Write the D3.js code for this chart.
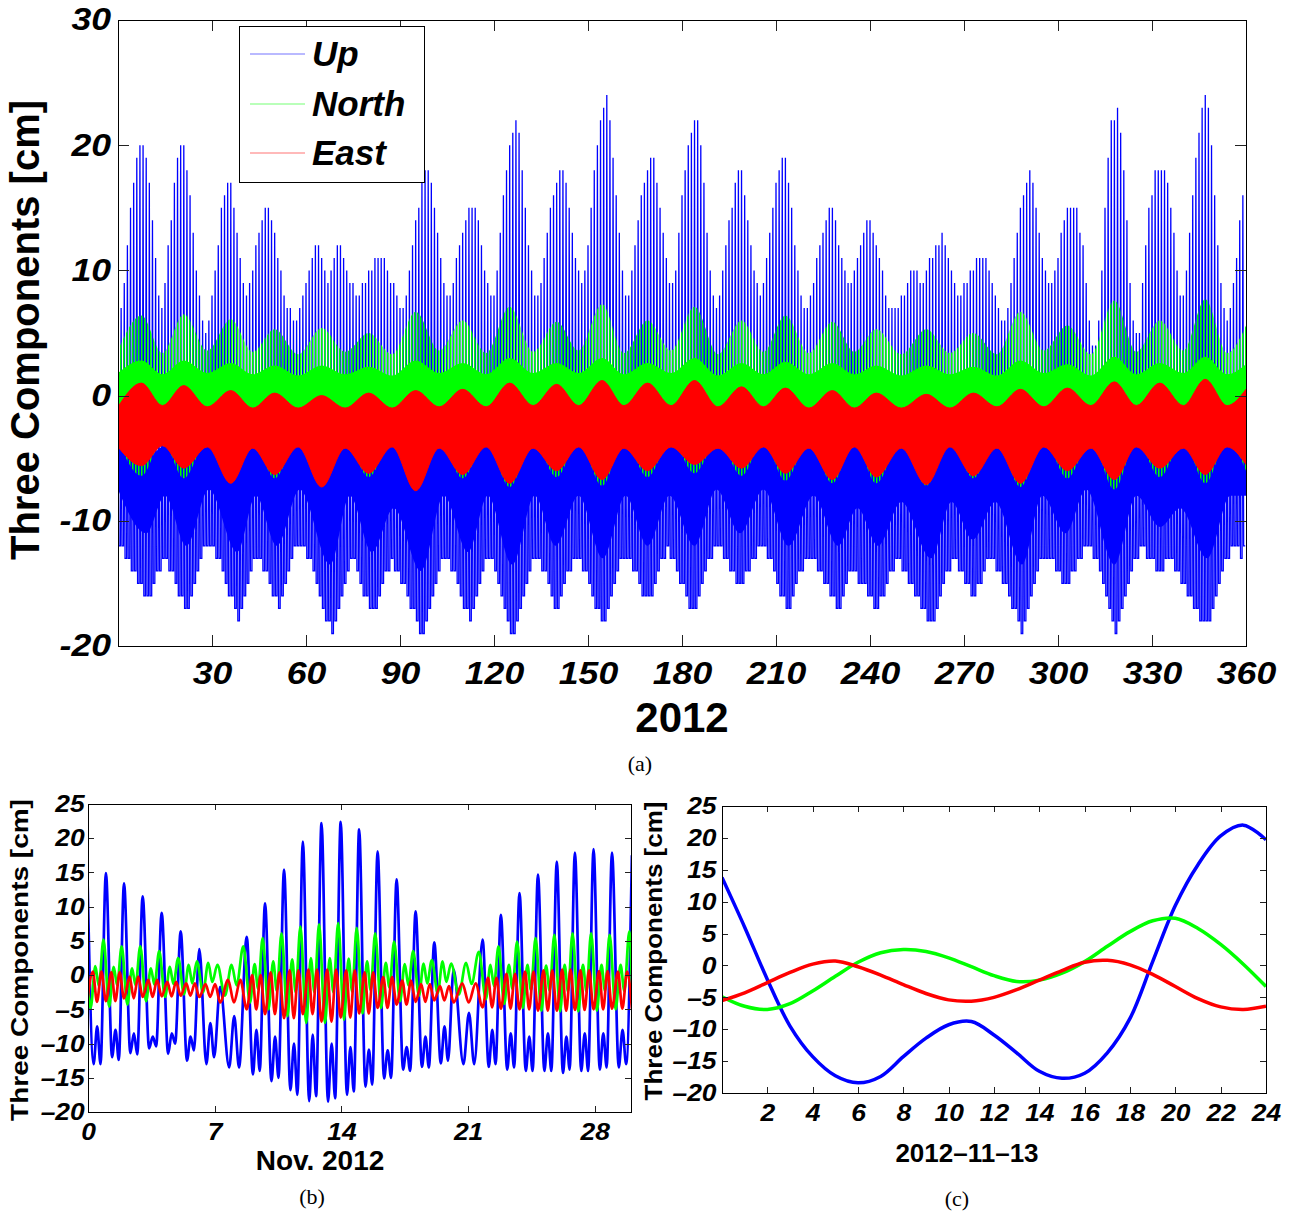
<!DOCTYPE html>
<html>
<head>
<meta charset="utf-8">
<title>Three Components – 2012</title>
<script src="https://cdn.jsdelivr.net/npm/d3@7"></script>
<style>
  html, body { margin: 0; padding: 0; background: #ffffff; }
  svg { display: block; }
</style>
</head>
<body>
<svg id="fig" width="1296" height="1216" viewBox="0 0 1296 1216"></svg>
<script>
// ======================= (a) whole year 2012 =======================
const yearTicks = [30, 60, 90, 120, 150, 180, 210, 240, 270, 300, 330, 360];
const yearValueTicks = [-20, -10, 0, 10, 20, 30];
const seriesNames = ["Up", "North", "East"];

// Up component: daily high [cm], one value per day of year (0..359)
const upDailyHigh = [
  5, 7, 9, 12, 15, 17, 19, 20, 20, 19, 17, 14, 11, 8,
  7, 9, 12, 14, 17, 19, 20, 20, 18, 16, 13, 10, 8, 6,
  5, 6, 8, 10, 12, 15, 16, 17, 17, 15, 13, 11, 9, 8,
  9, 10, 12, 13, 14, 15, 15, 14, 13, 11, 10, 8, 7, 7, 6,
  6, 7, 8, 9, 10, 11, 12, 12, 11, 10, 9,
  10, 11, 12, 12, 11, 10, 9, 9, 8, 8,
  9, 9, 10, 10, 11, 11, 11, 11, 10, 9, 9, 8, 7, 7,
  8, 10, 12, 14, 15, 17, 18, 18, 17, 15, 13, 11, 9, 8,
  8, 9, 11, 12, 13, 14, 15, 15, 15, 14, 12, 10, 9, 8,
  8, 10, 13, 16, 18, 20, 21, 22, 21, 18, 15, 12, 10, 8,
  8, 9, 11, 13, 15, 16, 17, 18, 18, 17, 15, 13, 11, 10, 9,
  10, 12, 15, 18, 20, 22, 23, 24, 22, 19, 16, 13, 10, 8,
  8, 10, 12, 14, 16, 17, 18, 19, 19, 17, 15, 13, 11, 9,
  9, 10, 13, 16, 18, 20, 21, 22, 22, 20, 17, 13, 10, 8,
  7, 8, 10, 12, 14, 15, 17, 18, 18, 16, 14, 12, 10, 9, 8,
  9, 11, 13, 15, 17, 18, 19, 19, 17, 15, 12, 10, 8, 7,
  7, 8, 9, 11, 12, 13, 14, 15, 15, 14, 12, 11, 10, 9,
  9, 10, 11, 12, 13, 14, 14, 13, 12, 11, 10, 8, 7, 7,
  7, 7, 8, 8, 9, 10, 10, 10, 9, 9, 10, 11, 11, 12, 12, 13, 12, 11, 10, 9, 8, 8,
  9, 9, 10, 10, 11, 11, 11, 11, 10, 9, 8, 7, 6, 6,
  7, 9, 11, 13, 15, 16, 17, 18, 17, 15, 13, 11, 10, 9,
  9, 10, 11, 13, 14, 15, 15, 15, 15, 13, 12, 9, 6, 4,
  4, 6, 10, 15, 19, 22, 22, 23, 21, 18, 14, 9, 6, 5,
  5, 9, 12, 15, 16, 18, 18, 18, 18, 17, 15, 13, 10, 8,
  8, 10, 13, 16, 19, 21, 23, 24, 23, 20, 16, 12, 9, 7, 6, 7, 9, 11, 14, 16
];

// Up component: daily low [cm]
const upDailyLow = [
  -12, -12, -13, -13, -14, -14, -15, -15, -16, -16, -16, -15, -14, -14,
  -13, -13, -14, -14, -15, -16, -16, -17, -17, -16, -15, -14, -13, -12,
  -12, -12, -12, -13, -13, -14, -15, -16, -16, -17, -18, -17, -16, -15, -14, -13, -13,
  -13, -14, -14, -15, -16, -16, -17, -16, -15, -14, -13, -12, -12, -12,
  -12, -13, -13, -14, -15, -16, -17, -18, -18, -19, -18, -17, -16, -15, -14, -13,
  -13, -14, -15, -16, -16, -17, -17, -17, -16, -15, -14, -14, -13, -14,
  -14, -15, -15, -16, -17, -17, -18, -19, -19, -18, -17, -16, -15, -14, -13, -13,
  -13, -14, -14, -15, -16, -17, -17, -18, -17, -16, -15, -14, -13, -13,
  -13, -14, -15, -16, -17, -18, -19, -19, -18, -17, -16, -15, -14, -13,
  -13, -13, -14, -14, -15, -16, -17, -17, -16, -15, -14, -14, -13, -13,
  -13, -14, -14, -15, -16, -17, -17, -18, -18, -17, -16, -15, -14, -13, -13,
  -13, -13, -14, -14, -15, -16, -16, -16, -16, -15, -14, -13, -13, -12, -13,
  -13, -14, -15, -15, -16, -17, -17, -17, -16, -15, -14, -13, -13, -12, -12,
  -12, -13, -13, -14, -14, -15, -15, -15, -14, -14, -13, -13, -12, -12,
  -12, -13, -13, -14, -15, -16, -16, -17, -17, -16, -15, -14, -14, -13, -13, -13,
  -13, -14, -14, -15, -15, -16, -16, -17, -17, -16, -15, -14, -14, -14, -15,
  -15, -15, -16, -16, -17, -17, -16, -16, -15, -14, -14, -13, -13, -14,
  -14, -15, -15, -16, -16, -17, -17, -18, -18, -18, -17, -16, -15, -14, -14, -13,
  -13, -14, -14, -15, -15, -16, -16, -15, -15, -14, -13, -13, -13, -14,
  -14, -15, -15, -16, -17, -17, -18, -19, -18, -17, -16, -15, -14, -13, -13,
  -13, -13, -13, -14, -14, -15, -15, -15, -14, -14, -13, -13, -12, -12,
  -12, -13, -13, -14, -15, -16, -17, -18, -19, -18, -17, -16, -15, -14, -13, -13,
  -12, -12, -13, -13, -13, -14, -14, -14, -13, -13, -13, -14, -14, -15, -15,
  -16, -16, -17, -17, -18, -18, -18, -18, -17, -16, -15, -14, -13, -13, -12, -12, -12, -13, -12
];

// Dense part of the Up trace (where the daily troughs overlap)
const upBandDay = [0, 9, 15, 21.8, 29, 38, 44, 50.7, 58, 67.7, 74, 81, 88, 96.7, 104, 111.7, 118, 125.8, 133, 139.6,
  147, 154.7, 162, 169, 176, 184, 191, 198.5, 206, 214, 222, 229.8, 236, 242.6, 250, 259.5, 266, 272.8, 280, 288.5,
  295, 302.4, 309, 318, 325, 332.6, 339, 347.6, 355, 360];
const upBandTop = [-4, -5, -4, -5, -4, -5, -4, -5, -4, -5, -4, -5, -4, -5, -4, -5, -4, -5, -4, -5,
  -4, -5, -4, -5, -4, -5, -4, -5, -4, -5, -4, -5, -4, -5, -4, -5, -4, -5, -4, -5,
  -4, -5, -4, -5, -4, -5, -4, -5, -4, -4];
const upBandBottom = [-7.5, -11, -8, -12, -7.5, -12.5, -8, -12, -7.5, -13.5, -8, -12.5, -9, -14, -8, -12.5, -8, -13.5, -8, -12,
  -8, -13, -8, -12, -8, -12, -7.5, -11, -7.5, -12, -8, -12, -9, -12, -8.5, -13, -8.5, -11.5, -8.5, -13.5,
  -8, -11, -7.5, -13.5, -8, -10.5, -9, -13, -8, -8];

// North / East envelopes, at alternating neap and spring tides
const envDay = [0, 7.5, 14.2, 21, 28.5, 36, 43, 50, 57.5, 65, 72.5, 80, 87.5, 95, 102.5, 110, 117.5, 125, 132.5, 140,
  147, 154.5, 161.5, 169, 176.5, 184, 191.5, 199, 206, 213, 220.5, 228, 235, 242, 250, 258, 265.5, 273, 280.5, 288,
  295.5, 303, 310.5, 318, 325, 332.5, 340, 347, 354, 360];
const northTop = [3.6, 6.4, 3.4, 6.5, 3.6, 6.1, 3.5, 5.3, 3.3, 5.4, 3.5, 5.0, 3.3, 6.7, 3.6, 6.0, 3.4, 7.1, 3.5, 5.9,
  3.6, 7.3, 3.4, 6.0, 3.6, 7.1, 3.3, 6.0, 3.5, 6.4, 3.4, 5.9, 3.5, 5.3, 3.3, 5.3, 3.4, 5.0, 3.3, 6.7,
  3.6, 5.6, 3.3, 7.6, 3.5, 6.0, 3.6, 7.7, 3.4, 5.6];
const northCoreTop = [1.8, 2.8, 1.7, 2.8, 1.8, 2.6, 1.7, 2.4, 1.6, 2.4, 1.7, 2.3, 1.6, 2.8, 1.8, 2.6, 1.7, 3.0, 1.8, 2.6,
  1.8, 3.0, 1.7, 2.6, 1.8, 3.0, 1.6, 2.6, 1.7, 2.7, 1.7, 2.6, 1.7, 2.4, 1.6, 2.4, 1.7, 2.3, 1.6, 2.8,
  1.8, 2.5, 1.6, 3.1, 1.7, 2.6, 1.8, 3.1, 1.7, 2.5];
const northCoreBottom = [-1.8, -3.0, -1.8, -3.0, -1.8, -3.0, -1.8, -3.0, -1.8, -3.0, -1.8, -3.0, -1.8, -3.0, -1.8, -3.0, -1.8, -3.0, -1.8, -3.0,
  -1.8, -3.0, -1.8, -3.0, -1.8, -3.0, -1.8, -3.0, -1.8, -3.0, -1.8, -3.0, -1.8, -3.0, -1.8, -3.0, -1.8, -3.0, -1.8, -3.0,
  -1.8, -3.0, -1.8, -3.0, -1.8, -3.0, -1.8, -3.0, -1.8, -2.5];
const northBottom = [-3.6, -6.4, -3.6, -6.6, -3.6, -7.0, -3.6, -6.6, -3.6, -7.0, -3.6, -6.5, -3.6, -7.2, -3.6, -6.6, -3.6, -7.3, -3.6, -6.5,
  -3.6, -7.2, -3.6, -6.5, -3.6, -6.2, -3.6, -6.4, -3.6, -6.8, -3.6, -7.0, -3.6, -7.0, -3.6, -7.2, -3.6, -6.6, -3.6, -7.3,
  -3.6, -6.6, -3.6, -7.5, -3.6, -6.5, -3.6, -7.0, -3.6, -6.0];
const eastTop = [-0.9, 1.0, -0.8, 0.8, -0.9, 0.4, -1.0, 0.2, -1.0, 0.0, -1.0, 0.2, -1.0, 0.4, -0.9, 0.5, -0.9, 1.0, -0.8, 0.9,
  -0.8, 1.2, -0.8, 1.0, -0.8, 1.2, -0.9, 0.7, -0.9, 0.6, -1.0, 0.4, -1.0, 0.2, -1.0, 0.1, -1.0, 0.2, -0.9, 0.5,
  -0.9, 0.6, -0.8, 1.1, -0.8, 1.0, -0.8, 1.3, -0.8, 0.5];
const eastBottom = [-4.1, -5.6, -4.0, -5.8, -4.1, -7.0, -4.2, -6.3, -4.1, -7.3, -4.2, -6.2, -4.1, -7.6, -4.2, -6.3, -4.1, -7.0, -4.2, -6.0,
  -4.1, -6.7, -4.2, -6.0, -4.1, -5.5, -4.2, -5.8, -4.1, -6.2, -4.2, -6.7, -4.1, -6.5, -4.2, -7.1, -4.1, -6.4, -4.2, -7.0,
  -4.1, -6.0, -4.2, -6.7, -4.1, -5.8, -4.2, -6.3, -4.1, -5.5];

// ======================= (b) November 2012 =======================
const novTicks = [0, 7, 14, 21, 28];
const smallValueTicks = [-20, -15, -10, -5, 0, 5, 10, 15, 20, 25];
// times [day of month, from 0] of the daily Up maxima, and their values [cm]
const novPeakDay = [-0.04, 0.99, 1.99, 3.02, 4.07, 5.12, 6.15, 7.3, 8.77, 9.78, 10.83, 11.87, 12.9, 13.96, 14.98,
  16.0, 17.05, 18.1, 19.13, 20.2, 21.8, 22.81, 23.84, 24.86, 25.9, 26.9, 27.93, 28.95, 30.05];
const novUpPeak = [15.8, 14.9, 13.4, 11.5, 9.1, 6.4, 3.8, -1.7, 5.6, 10.5, 15.4, 19.5, 22.2, 22.4, 21.3,
  18.1, 14.0, 9.3, 4.8, 0.8, 5.2, 8.8, 12.0, 14.7, 16.6, 17.9, 18.4, 17.9, 17.5];
// Up, between two maxima: first trough, small hump, second trough
const novUpLow1 = [-13.0, -12.0, -11.4, -10.7, -11.5, -12.5, -13.0, -13.5, -14.5, -15.5, -16.8, -18.4, -18.5, -17.5,
  -16.3, -15.1, -13.8, -13.4, -12.9, -13.0, -13.4, -13.8, -14.0, -14.0, -14.3, -14.0, -13.8, -13.5];
const novUpMid = [-7.5, -8.0, -8.5, -9.0, -8.5, -9.0, -7.0, -6.0, -8.0, -9.0, -10.0, -8.7, -10.0, -10.5,
  -10.9, -11.0, -10.5, -9.0, -7.5, -5.5, -8.0, -8.5, -9.0, -8.5, -9.0, -8.5, -8.5, -8.0];
const novUpLow2 = [-13.0, -12.4, -11.6, -10.4, -10.0, -11.0, -12.0, -13.5, -14.0, -15.0, -17.5, -17.7, -18.0, -17.0,
  -16.0, -15.0, -14.0, -13.5, -12.5, -13.0, -13.0, -13.5, -14.0, -14.0, -13.8, -14.0, -13.5, -13.0];
// North, per cycle: low, small high, small low, high
const novNorthStart = -1.0;
const novNorthLow1 = [-4.8, -4.6, -4.3, -3.8, -3.2, -2.8, -2.5, -3.0, -4.0, -5.0, -6.0, -7.0, -7.0, -6.5,
  -5.6, -4.8, -3.8, -3.0, -2.6, -2.8, -3.5, -4.2, -4.8, -5.2, -5.3, -5.3, -5.2, -5.0];
const novNorthHigh1 = [1.3, 1.2, 1.0, 1.0, 1.2, 1.5, 1.8, 1.5, 1.6, 2.0, 2.3, 2.5, 2.5, 2.4,
  2.0, 1.8, 1.6, 1.7, 2.0, 1.8, 1.5, 1.5, 1.5, 1.4, 1.5, 1.5, 1.5, 1.5];
const novNorthLow2 = [-1.6, -1.5, -1.5, -1.4, -1.3, -1.2, -1.0, -1.5, -2.0, -2.3, -2.5, -2.5, -2.5, -2.4,
  -2.2, -1.8, -1.5, -1.2, -1.0, -1.3, -1.6, -2.0, -2.2, -2.3, -2.4, -2.4, -2.3, -2.3];
const novNorthHigh2 = [5.2, 4.2, 4.2, 3.5, 2.5, 2.0, 1.5, 4.2, 5.4, 6.1, 7.1, 7.4, 7.6, 6.9,
  6.1, 4.9, 3.5, 2.2, 1.7, 3.4, 4.2, 4.9, 5.4, 5.9, 6.1, 6.1, 5.9, 6.4];
const novNorthEnd = -1.5;
// East, per cycle: semidiurnal high and low
const novEastHigh = [0.5, 0.4, -0.2, -0.7, -1.0, -1.2, -1.3, -0.7, 0.0, 0.4, 0.7, 0.8, 0.8, 0.7,
  0.4, -0.3, -0.8, -1.3, -1.6, -1.2, -0.4, 0.2, 0.5, 0.7, 0.8, 0.7, 0.6, 0.5];
const novEastLow = [-3.9, -3.8, -3.4, -3.2, -3.1, -3.0, -3.2, -4.0, -5.0, -5.7, -6.3, -5.7, -6.8, -6.2,
  -5.6, -4.8, -4.3, -3.9, -3.7, -4.0, -4.7, -4.9, -5.0, -5.2, -5.2, -5.1, -5.0, -4.9];

// ======================= (c) 2012-11-13, hourly =======================
const dayHours = [0, 1, 2, 3, 4, 5, 6, 7, 8, 9, 10, 11, 12, 13, 14, 15, 16, 17, 18, 19, 20, 21, 22, 23, 24];
const hourTicks = [2, 4, 6, 8, 10, 12, 14, 16, 18, 20, 22, 24];
const hourUp = [13.8, 6.0, -2.2, -9.5, -14.3, -17.3, -18.4, -17.4, -14.3, -11.4, -9.3, -8.8, -10.9, -13.7, -16.6,
  -17.7, -16.9, -13.7, -8.3, 0.6, 9.4, 15.8, 20.3, 22.0, 19.7];
const hourNorth = [-4.9, -6.4, -6.9, -6.0, -4.0, -1.7, 0.5, 2.0, 2.5, 2.2, 1.2, -0.2, -1.6, -2.5, -2.3,
  -1.2, 0.6, 3.0, 5.3, 7.0, 7.4, 5.8, 3.3, 0.2, -3.3];
const hourEast = [-5.5, -4.3, -2.7, -1.1, 0.2, 0.7, -0.2, -1.5, -3.0, -4.4, -5.4, -5.6, -5.0, -3.8, -2.3,
  -0.8, 0.5, 0.8, 0.1, -1.4, -3.3, -5.2, -6.5, -6.9, -6.4];

// ======================= drawing =======================
const COLORS = { Up: "#0000ff", North: "#00ff00", East: "#ff0000" };
const SANS = '"Liberation Sans", Arial, Helvetica, sans-serif';
const SERIF = '"Liberation Serif", "Times New Roman", serif';

const svg = d3.select("#fig");
const defs = svg.append("defs");

function addClip(id, box) {
  defs.append("clipPath").attr("id", id).append("rect")
    .attr("x", box.l).attr("y", box.t).attr("width", box.r - box.l).attr("height", box.b - box.t);
}

function frameAndAxes(box, x, y, xTicks, yTicks, o) {
  const g = svg.append("g");
  const bottom = g.append("g").attr("transform", `translate(0,${box.b})`)
    .call(d3.axisBottom(x).tickValues(xTicks).tickSizeInner(-o.tick).tickSizeOuter(0)
      .tickPadding(o.padX).tickFormat(o.fmt));
  g.append("g").attr("transform", `translate(0,${box.t})`)
    .call(d3.axisTop(x).tickValues(xTicks).tickSizeInner(-o.tick).tickSizeOuter(0).tickFormat(() => ""));
  const left = g.append("g").attr("transform", `translate(${box.l},0)`)
    .call(d3.axisLeft(y).tickValues(yTicks).tickSizeInner(-o.tick).tickSizeOuter(0)
      .tickPadding(o.padY).tickFormat(o.fmt));
  g.append("g").attr("transform", `translate(${box.r},0)`)
    .call(d3.axisRight(y).tickValues(yTicks).tickSizeInner(-o.tick).tickSizeOuter(0).tickFormat(() => ""));
  g.selectAll(".domain").remove();
  g.selectAll(".tick line").attr("stroke", "#222").attr("stroke-width", 1).attr("shape-rendering", "crispEdges");
  [bottom, left].forEach(a => a.selectAll("text")
    .attr("font-family", SANS).attr("font-size", o.size)
    .attr("font-weight", "bold").attr("font-style", "italic")
    .attr("fill", "#000").attr("transform", `scale(${o.stretch},1)`));
  g.append("rect").attr("x", box.l).attr("y", box.t)
    .attr("width", box.r - box.l).attr("height", box.b - box.t)
    .attr("fill", "none").attr("stroke", "#000").attr("stroke-width", 1)
    .attr("shape-rendering", "crispEdges");
}

function label(text, x, y, size, opt = {}) {
  const t = svg.append("text").text(text)
    .attr("font-family", opt.serif ? SERIF : SANS)
    .attr("font-size", size)
    .attr("font-weight", opt.serif ? "normal" : "bold")
    .attr("font-style", opt.italic ? "italic" : "normal")
    .attr("text-anchor", opt.anchor || "middle")
    .attr("fill", "#000");
  if (opt.rotate) {
    t.attr("transform", `translate(${x},${y}) scale(${opt.sx || 1},1) rotate(-90)`);
  } else {
    t.attr("x", x).attr("y", y);
    if (opt.sx) t.attr("transform", `translate(${x * (1 - opt.sx)},0) scale(${opt.sx},1)`);
  }
  return t;
}

// ---------- panel (a) ----------
const PA = { l: 118, r: 1246, t: 20, b: 646 };
const xA = d3.scaleLinear().domain([0, 360]).range([PA.l, PA.r]);
const yA = d3.scaleLinear().domain([-20, 30]).range([PA.b, PA.t]);
addClip("clipA", PA);

const hatch = defs.append("pattern").attr("id", "northHatch")
  .attr("patternUnits", "userSpaceOnUse").attr("width", 3).attr("height", 12);
hatch.append("rect").attr("x", 0).attr("y", 0).attr("width", 1.5).attr("height", 12).attr("fill", COLORS.North);

const gA = svg.append("g").attr("clip-path", "url(#clipA)");

// Up: one spike per day between the daily low and the daily high
const upTrace = [];
upDailyHigh.forEach((h, d) => {
  upTrace.push([d, h], [d + 0.25, upDailyLow[d]], [d + 0.75, upDailyLow[d]]);
});
gA.append("path")
  .attr("d", d3.line().x(p => xA(p[0])).y(p => yA(p[1]))(upTrace))
  .attr("fill", "none").attr("stroke", COLORS.Up).attr("stroke-width", 1.3);

const idxBand = d3.range(upBandDay.length);
gA.append("path")
  .attr("d", d3.area().curve(d3.curveMonotoneX)
    .x(i => xA(upBandDay[i])).y0(i => yA(upBandBottom[i])).y1(i => yA(upBandTop[i]))(idxBand))
  .attr("fill", COLORS.Up);

const idxEnv = d3.range(envDay.length);
const envArea = (lo, hi) => d3.area().curve(d3.curveMonotoneX)
  .x(i => xA(envDay[i])).y0(i => yA(lo[i])).y1(i => yA(hi[i]))(idxEnv);

gA.append("path").attr("d", envArea(northBottom, northTop)).attr("fill", "url(#northHatch)");
gA.append("path").attr("d", envArea(northCoreBottom, northCoreTop)).attr("fill", COLORS.North);
gA.append("path").attr("d", envArea(eastBottom, eastTop))
  .attr("fill", COLORS.East).attr("stroke", COLORS.East).attr("stroke-width", 1);

frameAndAxes(PA, xA, yA, yearTicks, yearValueTicks,
  { tick: 11, padX: 16, padY: 6, size: 31, stretch: 1.15, fmt: d => String(d) });

label("2012", 682, 732, 42);
label("Three Components [cm]", 38.5, 330, 40, { rotate: true });
label("(a)", 640, 771, 22, { serif: true });

// legend
const lg = svg.append("g");
lg.append("rect").attr("x", 239).attr("y", 26).attr("width", 185).attr("height", 156)
  .attr("fill", "#fff").attr("stroke", "#000").attr("stroke-width", 1).attr("shape-rendering", "crispEdges");
seriesNames.forEach((name, i) => {
  const yy = [54, 104, 153][i];
  lg.append("line").attr("x1", 250).attr("x2", 305).attr("y1", yy).attr("y2", yy)
    .attr("stroke", COLORS[name]).attr("stroke-width", 1).attr("stroke-opacity", 0.55);
  lg.append("text").text(name).attr("x", 312).attr("y", yy + 12)
    .attr("font-family", SANS).attr("font-size", 35).attr("font-weight", "bold")
    .attr("font-style", "italic").attr("fill", "#000");
});

// ---------- panel (b) ----------
const PB = { l: 88, r: 631, t: 804, b: 1112 };
const xB = d3.scaleLinear().domain([0, 30]).range([PB.l, PB.r]);
const yB = d3.scaleLinear().domain([-20, 25]).range([PB.b, PB.t]);
addClip("clipB", PB);

const novUp = [[novPeakDay[0], novUpPeak[0]]];
const novNorth = [[novPeakDay[0], novNorthStart]];
const novEast = [];
for (let k = 0; k < novPeakDay.length - 1; k++) {
  const a = novPeakDay[k], b = novPeakDay[k + 1], L = b - a;
  novUp.push([a + 0.34 * L, novUpLow1[k]], [a + 0.53 * L, novUpMid[k]],
             [a + 0.71 * L, novUpLow2[k]], [b, novUpPeak[k + 1]]);
  novNorth.push([a + 0.18 * L, novNorthLow1[k]], [a + 0.43 * L, novNorthHigh1[k]],
                [a + 0.62 * L, novNorthLow2[k]], [a + 0.87 * L, novNorthHigh2[k]]);
  novEast.push([a, novEastLow[k]], [a + 0.30 * L, novEastHigh[k]],
               [a + 0.52 * L, novEastLow[k]], [a + 0.76 * L, novEastHigh[k]]);
}
const lastPeak = novPeakDay[novPeakDay.length - 1];
novNorth.push([lastPeak, novNorthEnd]);
novEast.push([lastPeak, novEastLow[novEastLow.length - 1]]);

const gB = svg.append("g").attr("clip-path", "url(#clipB)");
const lineB = d3.line().curve(d3.curveMonotoneX).x(p => xB(p[0])).y(p => yB(p[1]));
[[novUp, "Up"], [novNorth, "North"], [novEast, "East"]].forEach(([pts, name]) => {
  gB.append("path").attr("d", lineB(pts)).attr("fill", "none")
    .attr("stroke", COLORS[name]).attr("stroke-width", 2.7).attr("stroke-linejoin", "round");
});

const fmtDash = d => (d < 0 ? "\u2013" + (-d) : String(d));
frameAndAxes(PB, xB, yB, novTicks, smallValueTicks,
  { tick: 6, padX: 11, padY: 3, size: 24, stretch: 1.1, fmt: fmtDash });
label("Nov. 2012", 320, 1170, 28);
label("Three Components [cm]", 28, 960, 28, { rotate: true, sx: 0.85 });
label("(b)", 312, 1204, 22, { serif: true });

// ---------- panel (c) ----------
const PC = { l: 722, r: 1266, t: 806, b: 1093 };
const xC = d3.scaleLinear().domain([0, 24]).range([PC.l, PC.r]);
const yC = d3.scaleLinear().domain([-20, 25]).range([PC.b, PC.t]);
addClip("clipC", PC);
const gC = svg.append("g").attr("clip-path", "url(#clipC)");
const lineC = d3.line().curve(d3.curveCatmullRom.alpha(0.5)).x((v, i) => xC(dayHours[i])).y(v => yC(v));
[[hourUp, "Up"], [hourNorth, "North"], [hourEast, "East"]].forEach(([vals, name]) => {
  gC.append("path").attr("d", lineC(vals)).attr("fill", "none")
    .attr("stroke", COLORS[name]).attr("stroke-width", 3.5).attr("stroke-linejoin", "round");
});
frameAndAxes(PC, xC, yC, hourTicks, smallValueTicks,
  { tick: 6, padX: 11, padY: 5, size: 24, stretch: 1.1, fmt: fmtDash });
label("2012\u201311\u201313", 967, 1162, 26);
label("Three Components [cm]", 662, 951, 26, { rotate: true, sx: 0.92 });
label("(c)", 957, 1206, 22, { serif: true });
</script>
</body>
</html>
